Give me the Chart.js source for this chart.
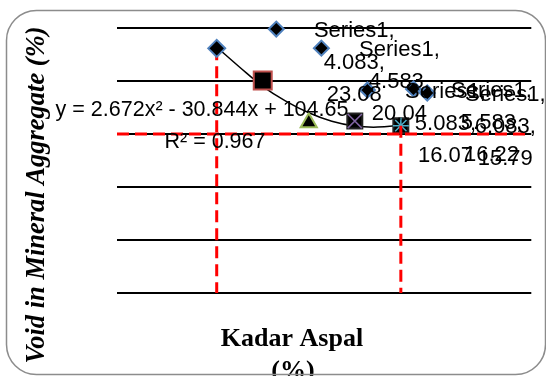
<!DOCTYPE html>
<html>
<head>
<meta charset="utf-8">
<script src="https://cdn.jsdelivr.net/npm/chart.js@4"></script>
<style>
  html, body { margin: 0; padding: 0; background: #fff; }
  canvas { display: block; }
</style>
</head>
<body>
<canvas id="chart" width="546" height="376"></canvas>
<script>
const kadarAspal = [4.083, 4.583, 5.083, 5.583, 6.083]
const vma = [23.08, 20.04, 16.07, 16.22, 15.79]
// legend keys of the data labels, where they ended up in the picture
const keyX = [4.73, 5.22, 5.72, 6.22, 6.37]
const keyY = [24.9, 23.1, 19.15, 19.25, 18.87]
// poly trendline
const trendX = [4.083, 4.333, 4.583, 4.833, 5.083, 5.333, 5.583, 5.833, 6.083]
const trendY = [23.2, 21.3, 19.5, 18.1, 17.0, 16.2, 15.75, 15.65, 15.85]
const vmaMin = 15
const xRange = [3, 7.45]
const seriesName = 'Series1'
const equation = 'y = 2.672x\u00B2 - 30.844x + 104.65'
const rSquared = 'R\u00B2 = 0.967'

const pts = (xs, ys) => xs.map((x, i) => ({ x: x, y: ys[i] }))

const redLine = {
    showLine: true,
    borderColor: '#ff0000',
    borderWidth: 3,
    borderDash: [12, 6],
    pointRadius: 0,
    clip: false
}

const decor = {
    id: 'decor',
    beforeDraw(chart) {
        const ctx = chart.ctx
        ctx.save()
        ctx.fillStyle = '#fff'
        ctx.fillRect(0, 0, chart.width, chart.height)
        ctx.restore()
    },
    afterDatasetsDraw(chart) {
        const ctx = chart.ctx
        ctx.save()
        ctx.fillStyle = '#000'
        ctx.textAlign = 'center'
        ctx.textBaseline = 'middle'

        // data labels (Series name, x, y) next to their keys
        ctx.font = '22px "Liberation Sans", Arial, sans-serif'
        const keys = chart.getDatasetMeta(5).data
        keys.forEach((pt, i) => {
            const cx = pt.x + 78
            ctx.fillText(seriesName + ',', cx, pt.y + 2)
            ctx.fillText(kadarAspal[i].toFixed(3) + ',', cx, pt.y + 34)
            ctx.fillText(vma[i].toFixed(2), cx, pt.y + 66)
        })

        // trendline label
        ctx.font = '21.5px "Liberation Sans", Arial, sans-serif'
        ctx.fillText(equation, 202, 110)
        ctx.fillText(rSquared, 215, 142)

        // axis titles
        ctx.font = 'bold 26px "Liberation Serif", "Times New Roman", serif'
        ctx.fillText('Kadar Aspal', 292, 339)
        ctx.fillText('(%)', 293, 371)

        ctx.font = 'bold italic 26.5px "Liberation Serif", "Times New Roman", serif'
        ctx.translate(37, 195)
        ctx.rotate(-Math.PI / 2)
        ctx.fillText('Void in Mineral Aggregate (%)', 0, 0)
        ctx.restore()

        // chart border
        ctx.save()
        ctx.strokeStyle = '#8c8c8c'
        ctx.lineWidth = 1.5
        ctx.beginPath()
        ctx.roundRect(6.5, 10.5, 539, 364, 30)
        ctx.stroke()
        ctx.restore()
    }
}

const ctx = document.getElementById('chart')
const vmaChart = new Chart(ctx, {
    type: 'scatter',
    data: {
        datasets: [
            Object.assign({
                data: pts([kadarAspal[4], kadarAspal[4]], [vma[4], 0]),
                order: 0
            }, redLine),
            Object.assign({
                data: pts(xRange, [vmaMin, vmaMin]),
                order: 1
            }, redLine),
            {
                // X / star marks inside the last two squares
                data: pts(kadarAspal.slice(3), vma.slice(3)),
                pointStyle: ['crossRot', 'star'],
                pointRadius: [10, 8],
                borderColor: ['#8064a2', '#4bacc6'],
                borderWidth: 1.5,
                order: 2,
                clip: false
            },
            {
                data: pts(kadarAspal, vma),
                pointStyle: ['rectRot', 'rect', 'triangle', 'rect', 'rect'],
                pointRadius: [8.5, 12.7, 9.3, 10.6, 10.6],
                backgroundColor: '#000',
                borderColor: ['#4f81bd', '#c0504d', '#9bbb59', '#222', '#222'],
                borderWidth: 2,
                order: 3,
                clip: false
            },
            Object.assign({
                data: pts([kadarAspal[0], kadarAspal[0]], [vma[0], 0]),
                order: 4
            }, redLine),
            {
                data: pts(keyX, keyY),
                pointStyle: 'rectRot',
                pointRadius: 7.5,
                backgroundColor: '#000',
                borderColor: '#4f81bd',
                borderWidth: 2,
                order: 5,
                clip: false
            },
            {
                data: pts(trendX, trendY),
                showLine: true,
                tension: 0.4,
                borderColor: '#000',
                borderWidth: 1.5,
                pointRadius: 0,
                order: 6
            }
        ]
    },
    options: {
        responsive: false,
        animation: false,
        devicePixelRatio: 1,
        layout: { padding: { left: 117, right: 13, top: 28, bottom: 83 } },
        plugins: {
            legend: { display: false },
            tooltip: { enabled: false }
        },
        scales: {
            x: {
                type: 'linear',
                min: 3,
                max: 7.5,
                ticks: { display: false },
                grid: { display: false, drawTicks: false },
                border: { display: false }
            },
            y: {
                min: 0,
                max: 25,
                ticks: { display: false, stepSize: 5 },
                grid: { color: '#000', lineWidth: 2, drawTicks: false },
                border: { display: false }
            }
        }
    },
    plugins: [decor]
})
</script>
</body>
</html>
